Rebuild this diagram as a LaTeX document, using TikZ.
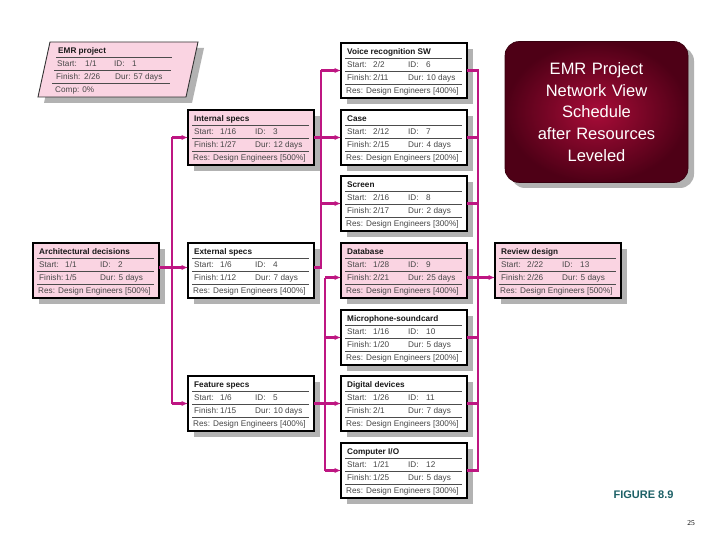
\documentclass[tikz,border=0pt]{standalone}
\usepackage{fontspec}
\setmainfont{Liberation Sans}
\newfontfamily\serifnum{Liberation Serif}
\usetikzlibrary{arrows.meta,calc}
\definecolor{pinkf}{RGB}{250,212,226}
\definecolor{connc}{RGB}{190,22,130}
\definecolor{shadowc}{RGB}{178,178,178}
\definecolor{figc}{RGB}{28,96,102}
\definecolor{redin}{RGB}{168,12,56}
\definecolor{redout}{RGB}{78,0,22}
\tikzset{
 taskfr/.style={draw=black, line width=1.2pt, minimum width=126pt, minimum height=55pt, inner sep=0pt, outer sep=0pt, anchor=north west},
 ttl/.style={anchor=west, inner sep=0pt, text height=6pt, text depth=1.8pt, font=\fontsize{8.2}{9}\selectfont\bfseries, text=black!90},
 txt/.style={anchor=west, inner sep=0pt, text height=6pt, text depth=1.8pt, font=\fontsize{8.2}{9}\selectfont, text=black!72},
 sepl/.style={draw=black!70, line width=0.6pt},
 wire/.style={draw=connc, line width=2.1pt},
 arr/.style={wire, -{Latex[length=6.5pt,width=5.5pt]}},
}
\newcommand{\taskbox}[9]{%
 \coordinate (#1-o) at (#2);
 \fill[shadowc] ([shift={(6,6)}]#1-o) rectangle ([shift={(132,61)}]#1-o);
 \node[taskfr, fill=#3] (#1) at (#1-o) {};
 \node[ttl] (#1-t) at ([shift={(6,9.5)}]#1-o) {#4};
 \draw[sepl] ([shift={(4,15)}]#1-o) -- ([shift={(121,15)}]#1-o);
 \node[txt] (#1-s) at ([shift={(6,22)}]#1-o) {Start:};
 \node[txt] (#1-sv) at ([shift={(32,22)}]#1-o) {#5};
 \node[txt] (#1-i) at ([shift={(67,22)}]#1-o) {ID:};
 \node[txt] (#1-iv) at ([shift={(85,22)}]#1-o) {#6};
 \draw[sepl] ([shift={(4,28.5)}]#1-o) -- ([shift={(121,28.5)}]#1-o);
 \node[txt] (#1-f) at ([shift={(6,35)}]#1-o) {Finish:};
 \node[txt] (#1-fv) at ([shift={(32,35)}]#1-o) {#7};
 \node[txt] (#1-d) at ([shift={(67,35)}]#1-o) {#8};
 \draw[sepl] ([shift={(4,41.5)}]#1-o) -- ([shift={(121,41.5)}]#1-o);
 \node[txt] (#1-r) at ([shift={(5,48)}]#1-o) {#9};
}
\begin{document}
\begin{tikzpicture}[x=1pt,y=-1pt]
\useasboundingbox[fill=white] (0,0) rectangle (720,540);

% EMR project summary (parallelogram)
\fill[shadowc] (56,48) -- (204,48) -- (192,103) -- (44,103) -- cycle;
\filldraw[fill=pinkf, draw=black!80, line width=0.9pt] (50,42) -- (198,42) -- (186,97) -- (38,97) -- cycle;
\node[ttl] (emr-t) at (58,51) {EMR project};
\draw[sepl] (56,57) -- (172,57);
\node[txt] (emr-s) at (57,64) {Start:};
\node[txt] (emr-sv) at (85,64) {1/1};
\node[txt] (emr-i) at (114,64) {ID:};
\node[txt] (emr-iv) at (132,64) {1};
\draw[sepl] (54,70) -- (171,70);
\node[txt] (emr-f) at (56,77) {Finish:};
\node[txt] (emr-fv) at (84,77) {2/26};
\node[txt] (emr-d) at (115,77) {Dur: 57 days};
\draw[sepl] (52,83) -- (170,83);
\node[txt] (emr-c) at (55,90) {Comp: 0\%};

% task boxes
\taskbox{arch}{33,243}{pinkf}{Architectural decisions}{1/1}{2}{1/5}{Dur: 5 days}{Res: Design Engineers [500\%]}
\taskbox{intsp}{188,110}{pinkf}{Internal specs}{1/16}{3}{1/27}{Dur: 12 days}{Res: Design Engineers [500\%]}
\taskbox{extsp}{188,243}{white}{External specs}{1/6}{4}{1/12}{Dur: 7 days}{Res: Design Engineers [400\%]}
\taskbox{featsp}{188,376}{white}{Feature specs}{1/6}{5}{1/15}{Dur: 10 days}{Res: Design Engineers [400\%]}
\taskbox{voice}{341,43}{white}{Voice recognition SW}{2/2}{6}{2/11}{Dur: 10 days}{Res: Design Engineers [400\%]}
\taskbox{case}{341,110}{white}{Case}{2/12}{7}{2/15}{Dur: 4 days}{Res: Design Engineers [200\%]}
\taskbox{screen}{341,176}{white}{Screen}{2/16}{8}{2/17}{Dur: 2 days}{Res: Design Engineers [300\%]}
\taskbox{db}{341,243}{pinkf}{Database}{1/28}{9}{2/21}{Dur: 25 days}{Res: Design Engineers [400\%]}
\taskbox{mic}{341,310}{white}{Microphone-soundcard}{1/16}{10}{1/20}{Dur: 5 days}{Res: Design Engineers [200\%]}
\taskbox{digital}{341,376}{white}{Digital devices}{1/26}{11}{2/1}{Dur: 7 days}{Res: Design Engineers [300\%]}
\taskbox{cio}{341,443}{white}{Computer I/O}{1/21}{12}{1/25}{Dur: 5 days}{Res: Design Engineers [300\%]}
\taskbox{review}{495,243}{pinkf}{Review design}{2/22}{13}{2/26}{Dur: 5 days}{Res: Design Engineers [500\%]}

% bus positions
\coordinate (busA) at (172,0);
\coordinate (busB) at (321,0);
\coordinate (busC) at (325,0);
\coordinate (busD) at (478,0);
\coordinate (archout) at ([yshift=3pt]arch.east);
\coordinate (extin) at ([yshift=3pt]extsp.west);
\coordinate (extout) at ([yshift=3pt]extsp.east);
\coordinate (dbin) at ([yshift=-7pt]db.west);
\coordinate (dbout) at ([yshift=-7pt]db.east);
\coordinate (revin) at ([yshift=-7pt]review.west);

% Architectural decisions -> specs
\draw[arr] (archout) -- (extin);
\draw[wire] (busA |- intsp.west) -- (busA |- featsp.west);
\draw[arr] (busA |- intsp.west) -- (intsp.west);
\draw[arr] (busA |- featsp.west) -- (featsp.west);

% Internal / External specs -> Voice, Case, Screen
\draw[arr] (intsp.east) -- (case.west);
\draw[wire] (extout) -- (busB |- extout) -- (busB |- voice.west);
\draw[arr] (busB |- voice.west) -- (voice.west);
\draw[arr] (busB |- screen.west) -- (screen.west);

% Feature specs -> Database, Microphone, Digital, Computer I/O
\draw[arr] (featsp.east) -- (digital.west);
\draw[wire] (busC |- dbin) -- (busC |- cio.west);
\draw[arr] (busC |- dbin) -- (dbin);
\draw[arr] (busC |- mic.west) -- (mic.west);
\draw[arr] (busC |- cio.west) -- (cio.west);

% column 3 -> Review design
\draw[wire] (voice.east) -- (busD |- voice.east) -- (busD |- cio.east) -- (cio.east);
\draw[wire] (case.east) -- (busD |- case.east);
\draw[wire] (screen.east) -- (busD |- screen.east);
\draw[wire] (dbout) -- (busD |- dbout);
\draw[wire] (mic.east) -- (busD |- mic.east);
\draw[wire] (digital.east) -- (busD |- digital.east);
\draw[arr] (busD |- revin) -- (revin);

% title panel
\fill[black!30, rounded corners=14pt] (511,47) rectangle (694,188);
\node[draw=redout!70!black, line width=0.6pt, rounded corners=14pt, inner color=redin, outer color=redout,
      minimum width=183pt, minimum height=141pt, text width=180pt, align=center, inner sep=0pt,
      text=white, font=\fontsize{16.5}{21.6}\selectfont] (title) at (596.5,112)
      {EMR Project\\Network View\\Schedule\\after Resources\\Leveled};

% captions
\node[font=\fontsize{11}{13}\selectfont\bfseries, text=figc, inner sep=0pt] (fig) at (643.5,495) {FIGURE 8.9};
\node[font=\serifnum\fontsize{7.5}{9}\selectfont, inner sep=0pt] (pg) at (691,523) {25};
\end{tikzpicture}
\end{document}
